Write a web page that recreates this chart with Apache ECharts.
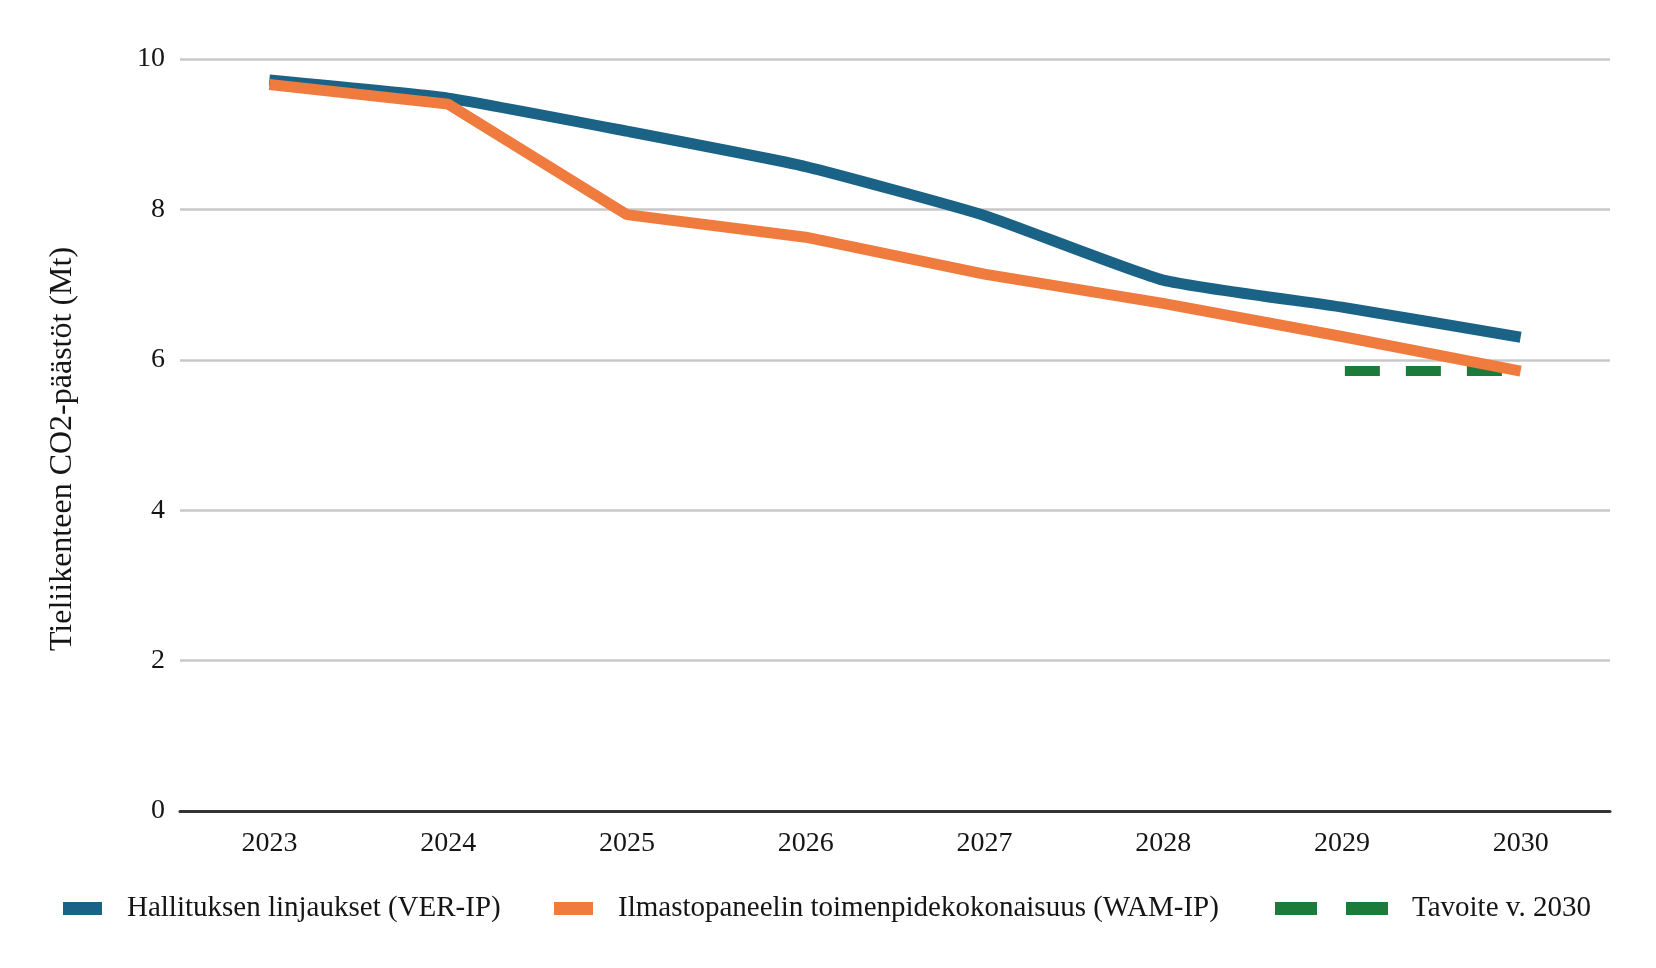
<!DOCTYPE html>
<html>
<head>
<meta charset="utf-8">
<script src="https://cdn.jsdelivr.net/npm/echarts@6/dist/echarts.min.js"></script>
<style>
html,body{margin:0;padding:0;background:#fff;}
#chart{width:1656px;height:968px;}
</style>
</head>
<body>
<div id="chart"></div>
<script>
const years = ['2023','2024','2025','2026','2027','2028','2029','2030'];
const verIP = [9.72, 9.48, 9.04, 8.57, 7.92, 7.06, 6.70, 6.30];
const wamIP = [9.66, 9.40, 7.93, 7.63, 7.14, 6.75, 6.31, 5.85];
const target = [null, null, null, null, null, null, 5.85, 5.85];
const yTicks = [0, 2, 4, 6, 8, 10];

const names = ['Hallituksen linjaukset (VER-IP)', 'Ilmastopaneelin toimenpidekokonaisuus (WAM-IP)', 'Tavoite v. 2030'];
const colors = ['#1b6386', '#ef7b3e', '#1c7a3a'];
const FONT = '"Liberation Serif", "Times New Roman", serif';
const TXT = '#151515';

const chart = echarts.init(document.getElementById('chart'), null, {renderer: 'canvas'});
const legendText = {fontFamily: FONT, fontSize: 29, color: TXT, padding: [0, 0, 0, 20]};
chart.setOption({
  backgroundColor: '#fff',
  animation: false,
  grid: {left: 180, right: 46, top: 59, bottom: 157, containLabel: false},
  legend: [
    {data: [{name: names[0], icon: 'rect'}], left: 63, top: 894, padding: 0, itemWidth: 39, itemHeight: 13, textStyle: legendText},
    {data: [{name: names[1], icon: 'rect'}], left: 554, top: 894, padding: 0, itemWidth: 39, itemHeight: 13, textStyle: legendText},
    {data: [{name: names[2], icon: 'path://M0,0h42v13h-42z M71,0h42v13h-42z'}], left: 1275, top: 894, padding: 0, itemWidth: 113, itemHeight: 13, textStyle: Object.assign({}, legendText, {padding: [0, 0, 0, 19]})}
  ],
  xAxis: {
    type: 'category',
    data: years,
    boundaryGap: true,
    axisLine: {show: true, lineStyle: {color: '#333', width: 3}},
    axisTick: {show: false},
    axisLabel: {fontFamily: FONT, fontSize: 28, color: TXT, margin: 19}
  },
  yAxis: {
    type: 'value',
    min: 0, max: 10, interval: 2,
    name: 'Tieliikenteen CO2-päästöt (Mt)',
    nameLocation: 'middle',
    nameRotate: 90,
    nameGap: 101,
    nameTextStyle: {fontFamily: FONT, fontSize: 32, color: TXT, padding: [0, 28, 0, 0]},
    axisLine: {show: false},
    axisTick: {show: false},
    axisLabel: {fontFamily: FONT, fontSize: 28, color: TXT, margin: 15,
      formatter: v => yTicks.includes(v) ? String(v) : ''},
    splitLine: {show: true, lineStyle: {color: '#c8c8c8', width: 2.5}}
  },
  series: [
    {name: names[0], type: 'line', data: verIP, showSymbol: false, symbol: 'none', smooth: 0.15,
     color: colors[0], lineStyle: {width: 11, color: colors[0]}, z: 3},
    {name: names[1], type: 'line', data: wamIP, showSymbol: false, symbol: 'none',
     color: colors[1], lineStyle: {width: 11, color: colors[1]}, z: 4},
    {name: names[2], type: 'line', data: target, showSymbol: false, symbol: 'none',
     color: colors[2], lineStyle: {width: 10, color: colors[2], type: [35, 26], dashOffset: 58, cap: 'butt'}, z: 2}
  ]
});
</script>
</body>
</html>
